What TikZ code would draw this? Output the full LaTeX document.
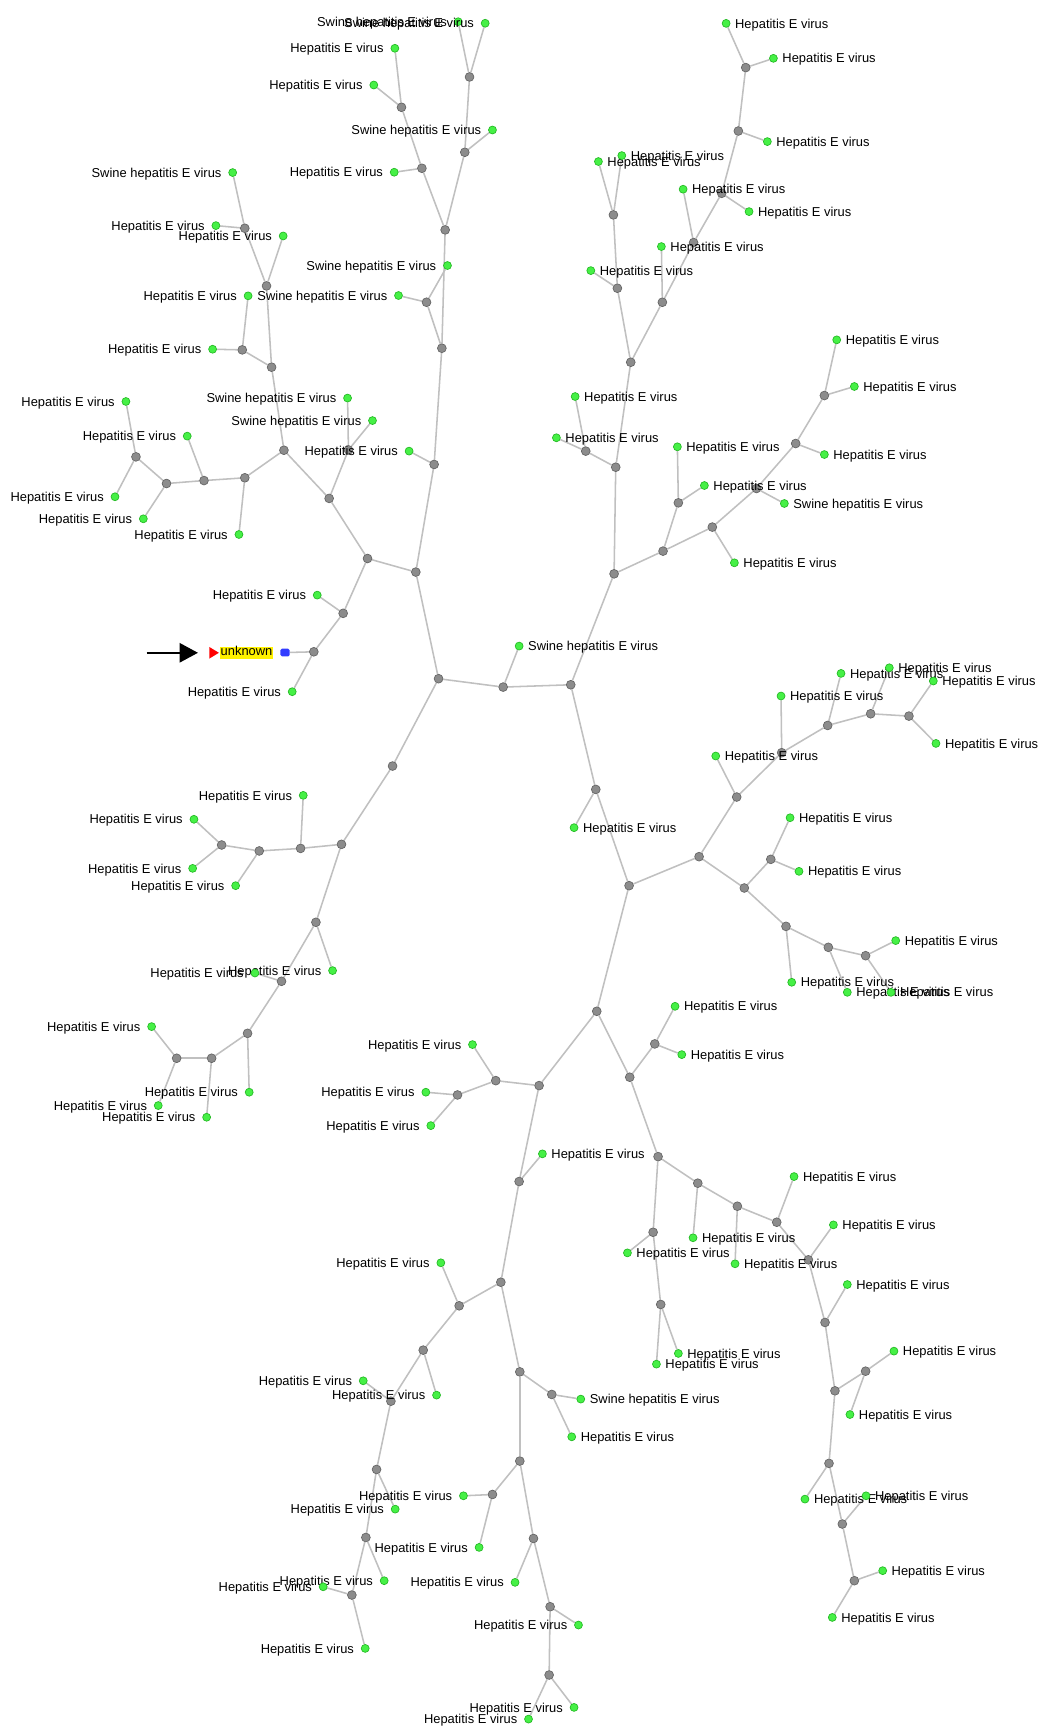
\documentclass[tikz,border=0pt]{standalone}
\usepackage{fontspec}
\setmainfont{Liberation Sans}
\usetikzlibrary{arrows.meta}
\pgfdeclarelayer{bg}
\pgfsetlayers{bg,main}
\definecolor{edgec}{RGB}{192,192,192}
\definecolor{gfill}{RGB}{140,140,140}
\definecolor{gdraw}{RGB}{100,100,100}
\definecolor{lfill}{RGB}{70,240,70}
\definecolor{ldraw}{RGB}{35,185,35}
\definecolor{unkblue}{RGB}{50,60,255}
\tikzset{
 gnd/.style={circle, fill=gfill, draw=gdraw, line width=0.6, inner sep=0, minimum size=8},
 lnd/.style={circle, fill=lfill, draw=ldraw, line width=0.6, inner sep=0, minimum size=7.2},
 lbl/.style={inner sep=0, font=\fontsize{11.7}{13}\selectfont, text=black},
 edge/.style={draw=edgec, line width=1.4},
}
\newcommand{\hevtxt}{Hepatitis E virus}
\newcommand{\shevtxt}{Swine hepatitis E virus}
\begin{document}
\begin{tikzpicture}[x=1pt,y=-1pt]
\begin{pgfonlayer}{bg}
\fill[white] (0,0) rectangle (941,1568);
\end{pgfonlayer}
\useasboundingbox (0,0) rectangle (941,1568);
% internal (gray) nodes
\foreach \n/\x/\y in {
 c1/397.7/615.5, c2/456.3/623.1, c3/517.6/621,
 u1/377.1/518.8, u2/393.7/421.2, u3/400.7/315.8, u4/386.8/274.1, u5/403.7/208.5,
 u6/382.6/152.6, u7/364.1/97.3, u8/421.5/138.1, u9/425.8/69.8,
 v1/333.3/506.5, v2/298.5/452, v3/311.2/556.2, v4/284.6/591.1, v5/257.5/408.3,
 v6/316/408, v7/246.3/333, v8/222/433.3, v9/241.7/259.3, v10/219.7/317.3,
 v11/222/207, v12/185/435.8, v13/151/438.5, v14/123.3/414.3,
 r1/556.9/520.4, r2/540.3/715.9, r3/558.4/423.7, r4/601.3/499.8, r5/531.2/409.1,
 r6/572/328.5, r7/559.9/261.4, r8/600.7/274.1, r9/556.3/194.9, r10/629/220,
 r11/654.5/175.3, r12/669.6/118.8, r13/676.3/61.3, r14/615.2/456, r15/646/478,
 r16/686/443, r17/721.6/402.2, r18/747.6/358.7,
 s1/570.5/803.2, s2/634/776.9, s3/541.2/917.1, s4/668.1/722.8, s5/675/805.3,
 s6/708.9/682.6, s7/750.6/657.9, s8/789.6/647.3, s9/824.3/649.4, s10/699/779.3,
 s11/712.8/840.1, s12/751.2/859.1, s13/785/866.7,
 t1/488.9/984.5, t2/571.1/976.9, t3/449.6/980, t4/470.8/1071.5, t5/414.9/993,
 t6/593.8/946.7, t7/596.8/1048.9, t8/592.3/1117.5, t9/632.8/1073, t10/599.2/1183,
 t11/668.7/1093.9, t12/704.4/1108.4, t13/733.1/1142.5, t14/748.2/1199.3,
 t15/757.2/1261.3, t16/785/1243.5, t17/751.8/1327.1, t18/763.9/1382.1,
 t19/774.8/1433.5, t20/454.2/1162.8, t21/416.4/1184.2, t22/471.4/1244.1,
 t23/383.8/1224.4, t24/354.5/1270.7, t25/341.5/1332.6, t26/331.8/1394.3,
 t27/319.1/1446.5, t28/500.4/1264.6, t29/471.4/1325, t30/446.6/1355.3,
 t31/483.8/1395.2, t32/498.9/1457.1, t33/498/1519,
 m1/356/694.7, w1/309.7/765.7, w2/272.6/769.4, w3/286.5/836.4, w4/235.1/771.7,
 w5/201/766.3, w6/255.3/889.9, w7/224.5/937.1, w8/191.9/959.7, w9/160.2/959.7}
 {\node[gnd] (\n) at (\x,\y) {};}
% leaves with labels on the left
\foreach \n/\x/\y/\tx in {
 a1/358.1/43.8/\hevtxt, a2/339/77.1/\hevtxt, a3/357.5/156.2/\hevtxt,
 a4/446.6/117.9/\shevtxt, a5/415.5/19.7/\shevtxt, a6/440/21.1/\shevtxt,
 a7/405.8/240.8/\shevtxt, a8/361.4/268/\shevtxt, a9/371/409.1/\hevtxt,
 a10/315.2/361/\shevtxt, a11/337.8/381.4/\shevtxt, a12/256.8/214/\hevtxt,
 a13/211/156.5/\shevtxt, a14/195.8/204.6/\hevtxt, a15/225/268.3/\hevtxt,
 a16/192.8/316.7/\hevtxt, a17/216.7/484.7/\hevtxt, a18/169.8/395.5/\hevtxt,
 a19/130/470.5/\hevtxt, a20/114.2/364.1/\hevtxt, a21/104.3/450.5/\hevtxt,
 b1/287.7/539.7/\hevtxt, b2/265/627.3/\hevtxt,
 f1/428.5/947.3/\hevtxt, f2/386.2/990.5/\hevtxt, f3/390.7/1020.8/\hevtxt,
 f21/399.8/1145.2/\hevtxt, f22/395.9/1265.2/\hevtxt, f23/329.4/1252.2/\hevtxt,
 f24/358.4/1368.6/\hevtxt, f25/348.4/1433.5/\hevtxt, f26/293.1/1439/\hevtxt,
 f27/331.2/1494.9/\hevtxt, f30/420.3/1356.5/\hevtxt, f31/434.5/1403.3/\hevtxt,
 f32/467.1/1435/\hevtxt, f33/524.6/1473.7/\hevtxt, f34/520.6/1548.4/\hevtxt,
 f35/479.3/1559/\hevtxt,
 g1/275/721.3/\hevtxt, g2/213.7/803.2/\hevtxt, g3/175.9/743/\hevtxt,
 g4/174.7/787.5/\hevtxt, g5/301.6/880.2/\hevtxt, g6/231.2/882.4/\hevtxt,
 g7/226/990.5/\hevtxt, g8/187.4/1013.2/\hevtxt, g9/137.5/931/\hevtxt,
 g10/143.5/1002.6/\hevtxt}
 {\node[lnd] (\n) at (\x,\y) {};
  \node[lbl, anchor=base east] (lab\n) at (\x-10,\y+4.2) {\tx};}
% leaves with labels on the right
\foreach \n/\x/\y/\tx in {
 lsw/470.8/585.9/\shevtxt,
 d1/504.6/397/\hevtxt, d2/521.6/359.6/\hevtxt, d3/535.8/245.4/\hevtxt,
 d4/542.7/146.5/\hevtxt, d5/563.9/141.1/\hevtxt, d6/599.8/223.6/\hevtxt,
 d7/619.5/171.6/\hevtxt, d8/679.3/191.9/\hevtxt, d9/695.9/128.4/\hevtxt,
 d10/658.5/21.2/\hevtxt, d11/701.4/52.9/\hevtxt, d12/614.3/405.2/\hevtxt,
 d13/638.8/440.3/\hevtxt, d14/666/510.4/\hevtxt, d15/711.3/456.6/\shevtxt,
 d16/747.6/412.2/\hevtxt, d17/758.8/308.2/\hevtxt, d18/774.8/350.5/\hevtxt,
 d19/520.6/750.6/\hevtxt,
 e1/649.1/685.6/\hevtxt, e2/708.3/631.2/\hevtxt, e3/762.7/610.7/\hevtxt,
 e4/806.5/605.6/\hevtxt, e5/846.4/617.6/\hevtxt, e6/848.8/674.2/\hevtxt,
 e7/716.5/741.6/\hevtxt, e8/724.6/790.2/\hevtxt, e9/718/890.8/\hevtxt,
 e10/768.4/899.9/\hevtxt, e11/812.3/853/\hevtxt, e12/808/899.9/\hevtxt,
 f4/612.2/912.6/\hevtxt, f5/618.3/956.4/\hevtxt, f6/569/1136.2/\hevtxt,
 f7/615.2/1227.4/\hevtxt, f8/595.3/1237.1/\hevtxt, f9/628.5/1122.5/\hevtxt,
 f10/666.6/1146.1/\hevtxt, f11/720.1/1067/\hevtxt, f12/755.8/1110.8/\hevtxt,
 f13/768.4/1164.9/\hevtxt, f14/810.7/1225.3/\hevtxt, f15/770.8/1282.8/\hevtxt,
 f16/730/1359.5/\hevtxt, f17/785.4/1356.5/\hevtxt, f18/800.5/1424.4/\hevtxt,
 f19/754.8/1466.8/\hevtxt, f20/491.9/1046.4/\hevtxt, f28/526.7/1268.8/\shevtxt,
 f29/518.5/1303/\hevtxt}
 {\node[lnd] (\n) at (\x,\y) {};
  \node[lbl, anchor=base west] (lab\n) at (\x+8,\y+4.2) {\tx};}
% the unknown query
\node[lbl, fill=yellow, inner xsep=0.8, inner ysep=0, text height=8.4, text depth=2.6] (unk) at (223.6,592) {unknown};
\fill[red] (189.8,586.7) -- (198.5,592) -- (189.8,597.3) -- cycle;
\node[fill=unkblue, inner sep=0, minimum width=8.5, minimum height=7, rounded corners=1.5] (unkb) at (258.5,591.8) {};
\coordinate (arrS) at (133,592);
\coordinate (arrE) at (179.5,592);
\draw[line width=1.3, -{Triangle[length=16.5,width=17.5]}] (arrS) -- (arrE);
% edges
\begin{pgfonlayer}{bg}
\foreach \a/\b in {
 c1/c2, c2/c3, c2/lsw, c1/u1, c1/m1, c3/r1, c3/r2,
 u1/u2, u1/v1, u2/u3, u2/a9, u3/u5, u3/u4, u4/a7, u4/a8, u5/u6, u5/u8, u6/u7,
 u6/a3, u7/a1, u7/a2, u8/u9, u8/a4, u9/a5, u9/a6,
 v1/v2, v1/v3, v3/b1, v3/v4, v4/b2, v4/unkb,
 v2/v5, v2/v6, v6/a10, v6/a11, v5/v7, v5/v8, v7/v9, v7/v10, v9/v11, v9/a12,
 v11/a13, v11/a14, v10/a15, v10/a16, v8/v12, v8/a17, v12/v13, v12/a18,
 v13/v14, v13/a19, v14/a20, v14/a21,
 r1/r3, r1/r4, r3/r5, r3/r6, r5/d1, r5/d2, r6/r7, r6/r8, r7/r9, r7/d3, r9/d4,
 r9/d5, r8/d6, r8/r10, r10/d7, r10/r11, r11/r12, r11/d8, r12/r13, r12/d9,
 r13/d10, r13/d11,
 r4/r14, r4/r15, r14/d12, r14/d13, r15/d14, r15/r16, r16/d15, r16/r17,
 r17/d16, r17/r18, r18/d17, r18/d18,
 r2/d19, r2/s1, s1/s2, s1/s3, s2/s4, s2/s5, s4/e1, s4/s6, s6/e2, s6/s7, s7/e3,
 s7/s8, s8/e4, s8/s9, s9/e5, s9/e6, s5/s10, s5/s11, s10/e7, s10/e8, s11/e9,
 s11/s12, s12/e10, s12/s13, s13/e11, s13/e12,
 s3/t1, s3/t2, t1/t3, t1/t4, t3/f1, t3/t5, t5/f2, t5/f3, t2/t6, t2/t7, t6/f4,
 t6/f5, t7/t8, t7/t9, t8/f6, t8/t10, t10/f7, t10/f8, t9/f9, t9/t11, t11/f10,
 t11/t12, t12/f11, t12/t13, t13/f12, t13/t14, t14/f13, t14/t15, t15/t16,
 t15/t17, t16/f14, t16/f15, t17/f16, t17/t18, t18/f17, t18/t19, t19/f18, t19/f19,
 t4/f20, t4/t20, t20/t21, t20/t22, t21/f21, t21/t23, t23/f22, t23/t24, t24/f23,
 t24/t25, t25/f24, t25/t26, t26/f25, t26/t27, t27/f26, t27/f27, t22/t28,
 t22/t29, t28/f28, t28/f29, t29/t30, t29/t31, t30/f30, t30/f31, t31/f32,
 t31/t32, t32/f33, t32/t33, t33/f34, t33/f35,
 m1/w1, w1/w2, w1/w3, w2/g1, w2/w4, w4/w5, w4/g2, w5/g3, w5/g4, w3/g5, w3/w6,
 w6/g6, w6/w7, w7/w8, w7/g7, w8/w9, w8/g8, w9/g9, w9/g10}
 {\draw[edge] (\a) -- (\b);}
\end{pgfonlayer}
\end{tikzpicture}
\end{document}
